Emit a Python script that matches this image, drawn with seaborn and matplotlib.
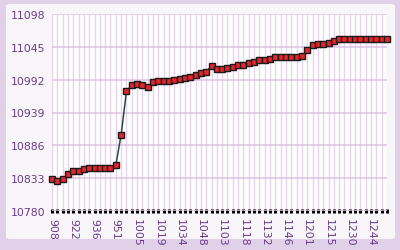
import matplotlib
matplotlib.use("Agg")
import matplotlib.pyplot as plt
from matplotlib.patches import FancyBboxPatch
import seaborn as sns
import numpy as np
import pandas as pd

# ---- data ----
prices = [10831, 10828, 10831, 10839, 10845, 10845, 10848, 10849.5, 10850, 10850,
          10850, 10850, 10854, 10903, 10973, 10983, 10985, 10984, 10980, 10988,
          10990, 10990, 10990, 10991, 10993, 10994, 10997, 11000, 11003, 11005,
          11014, 11010, 11009, 11011, 11013, 11015, 11016, 11019, 11021, 11023,
          11024.5, 11026, 11028, 11028, 11029, 11029, 11029, 11030, 11040, 11048,
          11050, 11050, 11050.5, 11054, 11058, 11058, 11058, 11058, 11058, 11058,
          11058, 11058, 11058, 11058]
time_labels = ["908", "922", "936", "951", "1005", "1019", "1034", "1048",
               "1103", "1118", "1132", "1146", "1201", "1215", "1230", "1244"]
y_ticks = [10780, 10833, 10886, 10939, 10992, 11045, 11098]
label_every = 4

df = pd.DataFrame({"idx": np.arange(len(prices)), "price": prices})

sns.set_theme(style="white")
plt.rcParams['font.family'] = ['DejaVu Sans']

fig = plt.figure(figsize=(4.0, 2.51), dpi=100)
fig.patch.set_facecolor("#e0d0e8")
panel = FancyBboxPatch((6 / 400, 11 / 251), 389 / 400, 235 / 251,
                       boxstyle="round,pad=0,rounding_size=0.01",
                       transform=fig.transFigure, facecolor="#f8f6f9",
                       edgecolor="none", zorder=-10)
fig.patches.append(panel)

ax = fig.add_axes([52 / 400, 39 / 251, 335 / 400, 197 / 251])
ax.set_zorder(1)
ax.set_facecolor("white")

sns.lineplot(data=df, x="idx", y="price", ax=ax, color="#2b4a42", linewidth=1.1,
             marker="s", markersize=3.8, markerfacecolor="#e3262b",
             markeredgecolor="#1a1a1a", markeredgewidth=1.0, clip_on=False,
             zorder=5)

n = len(prices)
ax.set_xlim(0, n - 1)
ax.set_ylim(y_ticks[0], y_ticks[-1])
ax.set_yticks(y_ticks)
ax.set_yticklabels([str(v) for v in y_ticks])
ax.set_xticks(np.arange(0, n, label_every)[:len(time_labels)])
ax.set_xticklabels(time_labels, rotation=-90)
ax.set_xticks(np.arange(n), minor=True)

grid_v = "#e8d3ec"
grid_h = "#dcc4e2"
ax.grid(axis="x", which="both", color=grid_v, linewidth=1.0, zorder=1)
ax.grid(axis="y", which="major", color=grid_h, linewidth=1.1, zorder=1)
ax.set_axisbelow(True)

for s in ["top", "right", "left", "bottom"]:
    ax.spines[s].set_visible(False)

lab_col = "#6a3a8c"
ax.tick_params(axis="y", which="major", length=0, pad=5, labelsize=7.8,
               labelcolor=lab_col)
ax.tick_params(axis="x", which="both", direction="inout", length=2.2, width=2.2,
               color="black", bottom=True)
ax.tick_params(axis="x", which="major", labelsize=7.8, labelcolor=lab_col, pad=4)
ax.set_xlabel("")
ax.set_ylabel("")

fig.savefig("out.png", dpi=100, facecolor=fig.get_facecolor())
